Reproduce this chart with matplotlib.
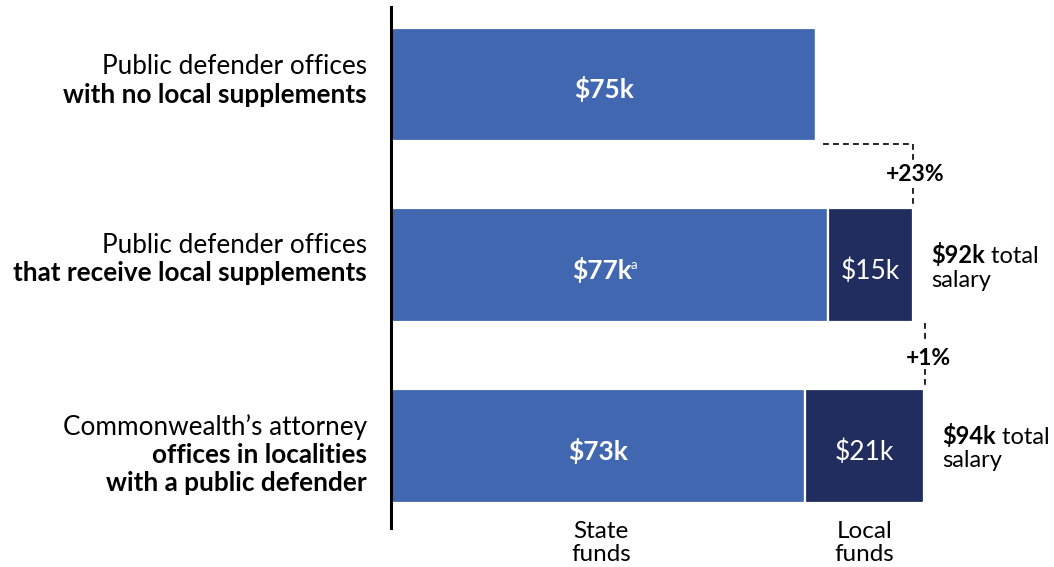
import matplotlib
matplotlib.use("Agg")
import matplotlib.pyplot as plt

plt.rcParams['font.family'] = ['Lato', 'DejaVu Sans']

# ---- data ----
categories_plain = ["Public defender offices",
                    "Public defender offices",
                    "Commonwealth\u2019s attorney"]
categories_bold = [["with no local supplements"],
                   ["that receive local supplements"],
                   ["offices in localities", "with a public defender"]]
state_funds = [75, 77, 73]
local_funds = [0, 15, 21]
state_labels = ["$75k", "$77k", "$73k"]
state_super = ["", "a", ""]
local_labels = ["", "$15k", "$21k"]
total_labels = ["", "$92k", "$94k"]
pct_changes = ["+23%", "+1%"]
col_labels = [["State", "funds"], ["Local", "funds"]]

STATE_C = "#4167B1"
LOCAL_C = "#222D5F"

W, H, DPI = 1054, 567, 100
fig = plt.figure(figsize=(W / DPI, H / DPI), dpi=DPI)
ax = fig.add_axes([391 / W, 1 - 528 / H, (W - 391) / W, 521 / H])
px_per_k = 5.67
ax.set_xlim(0, (W - 391) / px_per_k)
unit = 180.75
ax.set_ylim(2 + 82 / unit, -77.5 / unit)
for s in ["top", "right", "bottom"]:
    ax.spines[s].set_visible(False)
ax.spines["left"].set_linewidth(2.2)
ax.spines["left"].set_color("black")
ax.set_xticks([])
ax.set_yticks([])
ax.patch.set_alpha(0)

PT = 0.72  # points per pixel


def px(v):
    return v * PT


ypos = list(range(len(state_funds)))
bh = 113.5 / unit
ax.barh(ypos, state_funds, height=bh, color=STATE_C, edgecolor="white", linewidth=1.6)
ax.barh(ypos, local_funds, left=state_funds, height=bh, color=LOCAL_C,
        edgecolor="white", linewidth=1.6)

for i in ypos:
    s, l = state_funds[i], local_funds[i]
    dx = -7.5 if state_super[i] else 0
    ax.annotate(state_labels[i], xy=(s / 2, i), xytext=(px(dx), px(-14)),
                textcoords="offset points", color="white", fontsize=19,
                fontweight="bold", ha="center", va="baseline")
    if state_super[i]:
        ax.annotate(state_super[i], xy=(s / 2, i), xytext=(px(21.5), px(-4)),
                    textcoords="offset points", color="white", fontsize=9.5,
                    ha="left", va="baseline")
    if l > 0:
        ax.annotate(local_labels[i], xy=(s + l / 2, i), xytext=(0, px(-14)),
                    textcoords="offset points", color="white", fontsize=19,
                    ha="center", va="baseline")
        tot = s + l
        t1 = ax.annotate(total_labels[i], xy=(tot, i), xytext=(px(18.5), px(2)),
                         textcoords="offset points", fontsize=17, fontweight="bold",
                         ha="left", va="baseline", color="black")
        ax.annotate(" total", xy=(1, 0), xycoords=t1, fontsize=17, ha="left",
                    va="bottom", color="black")
        ax.annotate("salary", xy=(tot, i), xytext=(px(18.5), px(-21.5)),
                    textcoords="offset points", fontsize=17, ha="left",
                    va="baseline", color="black")

# category labels (baselines relative to bar centre, in pixels)
first_base = [-10, -12.5, -11]
for i in ypos:
    lines = [(categories_plain[i], "normal")] + [(b, "bold") for b in categories_bold[i]]
    for k, (txt, wt) in enumerate(lines):
        dy = first_base[i] + k * 28.2
        ax.annotate(txt, xy=(0, i), xycoords=ax.get_yaxis_transform(),
                    xytext=(px(-24), px(-dy)), textcoords="offset points",
                    fontsize=18.8, fontweight=wt, ha="right", va="baseline",
                    color="black")

# connectors
dash = dict(color="black", lw=1.2, ls=(0, (3.5, 2.5)))
tot1 = state_funds[1] + local_funds[1]
tot2 = state_funds[2] + local_funds[2]
b0_bot = 0 + bh / 2
b1_top, b1_bot = 1 - bh / 2, 1 + bh / 2
b2_top, b2_bot = 2 - bh / 2, 2 + bh / 2
yh = b0_bot + 3 / unit
ax.plot([state_funds[0] + 7 / px_per_k, tot1, tot1], [yh, yh, b0_bot + 22 / unit], **dash)
ax.plot([tot1, tot1], [b1_top - 20 / unit, b1_top], **dash)
ax.annotate(pct_changes[0], xy=(tot1, 0.5), xytext=(px(3), px(-6)),
            textcoords="offset points", fontsize=16.5, fontweight="bold",
            ha="center", va="baseline")
xc = tot2 + 1 / px_per_k
ax.plot([xc, xc], [b1_bot + 1 / unit, b1_bot + 18 / unit], **dash)
ax.plot([xc, xc], [b2_top - 20 / unit, b2_top], **dash)
ax.annotate(pct_changes[1], xy=(xc, 1.5), xytext=(px(3), px(-9)),
            textcoords="offset points", fontsize=16.5, fontweight="bold",
            ha="center", va="baseline")

# column labels
centres = [state_funds[2] / 2, state_funds[2] + local_funds[2] / 2]
shifts = [3, 0]
for c, lab, sh in zip(centres, col_labels, shifts):
    for k, line in enumerate(lab):
        ax.annotate(line, xy=(c, b2_bot), xytext=(px(sh), px(-(35.5 + 22.5 * k))),
                    textcoords="offset points", fontsize=17.5, ha="center",
                    va="baseline", color="black")

fig.savefig("out.png", dpi=DPI)
